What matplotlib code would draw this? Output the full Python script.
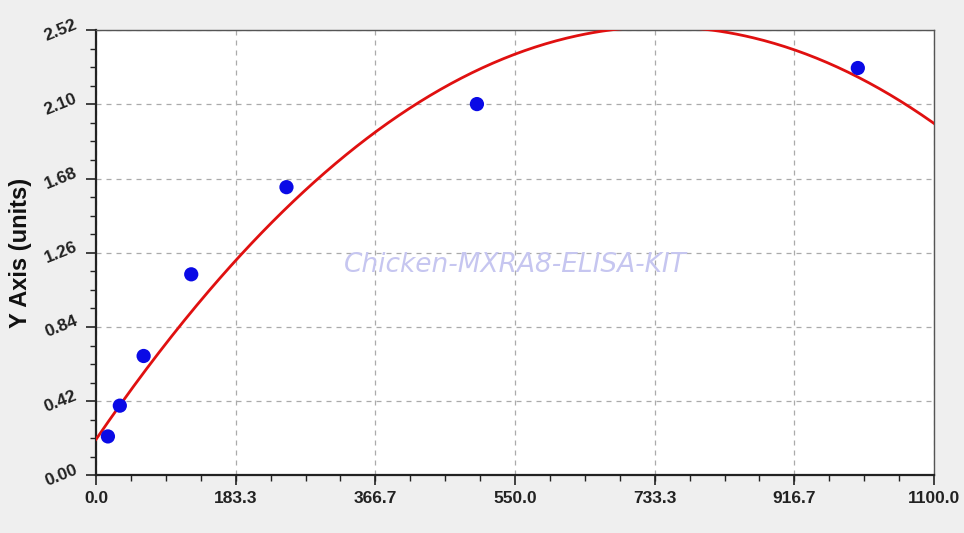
import numpy as np
import matplotlib
matplotlib.use("Agg")
import matplotlib.pyplot as plt
from matplotlib.ticker import MultipleLocator, FixedLocator

plt.rcParams["font.family"] = ["Liberation Sans", "DejaVu Sans"]

# standard points
conc = [15.625, 31.25, 62.5, 125, 250, 500, 1000]
od = [0.221, 0.395, 0.676, 1.138, 1.631, 2.101, 2.305]

# quadratic fit shown as the red curve (coefficients)
fit_a = 0.204
fit_b = 6.30e-3
fit_c = -4.25e-6

x_ticks = [0.0, 183.3, 366.7, 550.0, 733.3, 916.7, 1100.0]
y_ticks = [0.00, 0.42, 0.84, 1.26, 1.68, 2.10, 2.52]

bg = "#efefef"
fig = plt.figure(figsize=(9.64, 5.33), dpi=100, facecolor=bg)
ax = fig.add_axes([0.0996, 0.1079, 0.8693, 0.8358])
ax.set_facecolor("white")

xs = np.linspace(0, 1100, 400)
ax.plot(xs, fit_a + fit_b * xs + fit_c * xs ** 2, color="#e01010", lw=2.0, zorder=3)
ax.scatter(conc, od, s=105, color="#0a0ae6", zorder=4, edgecolors="none")

ax.set_xlim(0, 1100)
ax.set_ylim(0, 2.52)
ax.xaxis.set_major_locator(FixedLocator(x_ticks))
ax.yaxis.set_major_locator(FixedLocator(y_ticks))
ax.xaxis.set_minor_locator(MultipleLocator(1100 / 24))
ax.yaxis.set_minor_locator(MultipleLocator(0.105))
ax.set_xticklabels(["%.1f" % v for v in x_ticks], fontsize=12.5, fontweight="bold", color="#222222")
ax.set_yticklabels(["%.2f" % v for v in y_ticks], fontsize=12.5, fontweight="bold", color="#222222",
                   rotation=22, va="center")
ax.tick_params(axis="both", which="major", length=7, width=1.2, color="#222222", pad=5)
ax.tick_params(axis="both", which="minor", length=4, width=1.0, color="#222222")
ax.tick_params(axis="x", pad=4)

ax.grid(True, which="major", linestyle=(0, (4, 4)), color="#aaaaaa", lw=0.9)
ax.set_axisbelow(True)
for side in ["left", "bottom"]:
    ax.spines[side].set_linewidth(1.6)
    ax.spines[side].set_color("#222222")
for side in ["top", "right"]:
    ax.spines[side].set_linewidth(1.0)
    ax.spines[side].set_color("#555555")

ax.set_ylabel("Y Axis (units)", fontsize=17, fontweight="bold", color="#111111", labelpad=7)

ax.text(0.5, 0.472, "Chicken-MXRA8-ELISA-KIT", transform=ax.transAxes, ha="center", va="center",
        fontsize=19, style="italic", color="#c6c6f0", zorder=2, family="DejaVu Sans")

fig.savefig("out.png", dpi=100, facecolor=bg)
